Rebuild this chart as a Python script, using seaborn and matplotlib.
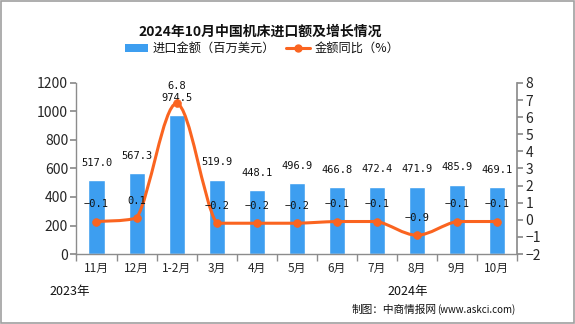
import numpy as np
import pandas as pd
import matplotlib
matplotlib.use("Agg")
import matplotlib.pyplot as plt
from matplotlib.path import Path
from matplotlib.patches import PathPatch, Rectangle
import seaborn as sns

categories = ["11月", "12月", "1-2月", "3月", "4月", "5月", "6月", "7月", "8月", "9月", "10月"]
import_value = [517.0, 567.3, 974.5, 519.9, 448.1, 496.9, 466.8, 472.4, 471.9, 485.9, 469.1]
growth = [-0.1, 0.1, 6.8, -0.2, -0.2, -0.2, -0.1, -0.1, -0.9, -0.1, -0.1]
left_ticks = [0, 200, 400, 600, 800, 1000, 1200]
right_ticks = [-2, -1, 0, 1, 2, 3, 4, 5, 6, 7, 8]

sns.set_theme(style="white")
plt.rcParams['font.family'] = ['Noto Sans CJK SC', 'DejaVu Sans']
plt.rcParams['axes.unicode_minus'] = True

BLUE = "#3D9EF0"
ORANGE = "#FA6420"
GRAY = "#8C8C8C"

fig = plt.figure(figsize=(5.75, 3.24), dpi=100)
ax = fig.add_axes([0.133, 0.216, 0.766, 0.528])

df = pd.DataFrame({"cat": categories, "val": import_value, "g": growth})
sns.barplot(data=df, x="cat", y="val", color=BLUE, width=0.4, saturation=1, ax=ax, zorder=2)
ax.set_xlim(-0.5, len(categories) - 0.5)
ax.set_ylim(0, 1200)
ax.set_yticks(left_ticks)
ax.set_xlabel("")
ax.set_ylabel("")
ax.tick_params(axis="y", labelsize=10, length=4, color=GRAY, direction="out", left=True, pad=2)
ax.set_xticks(range(len(categories)))
ax.set_xticklabels(categories, fontsize=8.5)
ax.tick_params(axis="x", which="major", length=0, pad=6)
ax.set_xticks(np.arange(-0.5, len(categories), 1.0), minor=True)
ax.tick_params(axis="x", which="minor", length=5, color=GRAY, bottom=True, direction="out")
for s in ["top", "right"]:
    ax.spines[s].set_visible(False)
for s in ["left", "bottom"]:
    ax.spines[s].set_color(GRAY)
    ax.spines[s].set_linewidth(1)

for i, v in enumerate(import_value):
    ax.annotate(f"{v:.1f}", (i, v), xytext=(0, 9), textcoords="offset points",
                ha="center", va="bottom", fontsize=7.5, family="DejaVu Sans Mono", color="#111111")

ax2 = ax.twinx()
ax2.set_ylim(-2, 8)
ax2.set_yticks(right_ticks)
ax2.tick_params(axis="y", labelsize=10, length=4, color=GRAY, direction="out", right=True, pad=2)
for s in ["top", "left", "bottom"]:
    ax2.spines[s].set_visible(False)
ax2.spines["right"].set_color(GRAY)
ax2.grid(False)
ax.grid(False)

# smooth curve through the data points (cubic Bezier segments with clamped control points)
xs = np.arange(len(growth), dtype=float)
ys = np.array(growth, dtype=float)
verts = [(xs[0], ys[0])]
codes = [Path.MOVETO]
n = len(xs)
t = 0.5
for i in range(n - 1):
    p0 = (xs[max(i - 1, 0)], ys[max(i - 1, 0)])
    p1 = (xs[i], ys[i])
    p2 = (xs[i + 1], ys[i + 1])
    p3 = (xs[min(i + 2, n - 1)], ys[min(i + 2, n - 1)])
    lo, hi = min(p1[1], p2[1]), max(p1[1], p2[1])
    c1y = np.clip(p1[1] + (p2[1] - p0[1]) * t / 3, lo, hi)
    c2y = np.clip(p2[1] - (p3[1] - p1[1]) * t / 3, lo, hi)
    c1 = (p1[0] + (p2[0] - p0[0]) * t / 3, c1y)
    c2 = (p2[0] - (p3[0] - p1[0]) * t / 3, c2y)
    verts += [c1, c2, p2]
    codes += [Path.CURVE4] * 3
ax2.add_patch(PathPatch(Path(verts, codes), facecolor="none", edgecolor=ORANGE, lw=2.2, zorder=3))
sns.scatterplot(data=df, x=xs, y="g", color=ORANGE, s=32, edgecolor=ORANGE, ax=ax2, zorder=4, legend=False)
ax2.set_ylabel("")

for i, g in enumerate(growth):
    ax2.annotate(f"{g:.1f}".replace("-", "−"), (i, g), xytext=(0, 9), textcoords="offset points",
                 ha="center", va="bottom", fontsize=7.5, family="DejaVu Sans Mono", color="#111111")

# title
fig.text(0.453, 0.903, "2024年10月中国机床进口额及增长情况", ha="center", va="center",
         fontsize=10, fontweight="bold", color="#111111")

# legend
fig.patches.append(Rectangle((125 / 575, 1 - 52 / 324), 23 / 575, 8 / 324, transform=fig.transFigure,
                             facecolor=BLUE, edgecolor="none"))
fig.text(153 / 575, 1 - 48 / 324, "进口金额（百万美元）", ha="left", va="center", fontsize=8.8, color="#111111")
fig.lines.append(plt.Line2D([286 / 575, 310 / 575], [1 - 48 / 324] * 2, transform=fig.transFigure,
                            color=ORANGE, lw=2.2, marker=None))
fig.lines.append(plt.Line2D([298 / 575], [1 - 48 / 324], transform=fig.transFigure,
                            color=ORANGE, marker="o", markersize=5))
fig.text(315 / 575, 1 - 48 / 324, "金额同比（%）", ha="left", va="center", fontsize=8.8, color="#111111")

# year labels and source
fig.text(49 / 575, 1 - 292 / 324, "2023年", ha="left", va="center", fontsize=9, color="#111111")
fig.text(387 / 575, 1 - 292 / 324, "2024年", ha="left", va="center", fontsize=9, color="#111111")
fig.text(437 / 575, 1 - 310 / 324, "制图：中商情报网", ha="right", va="center", fontsize=7.7, color="#111111")
fig.text(437 / 575, 1 - 310 / 324, "(www.askci.com)", ha="left", va="center", fontsize=7, color="#111111")

# border
fig.patches.append(Rectangle((0.001, 0.002), 0.997, 0.995, transform=fig.transFigure,
                             facecolor="none", edgecolor="#A0A0A0", lw=1.2))

fig.savefig("out.png", dpi=100)
